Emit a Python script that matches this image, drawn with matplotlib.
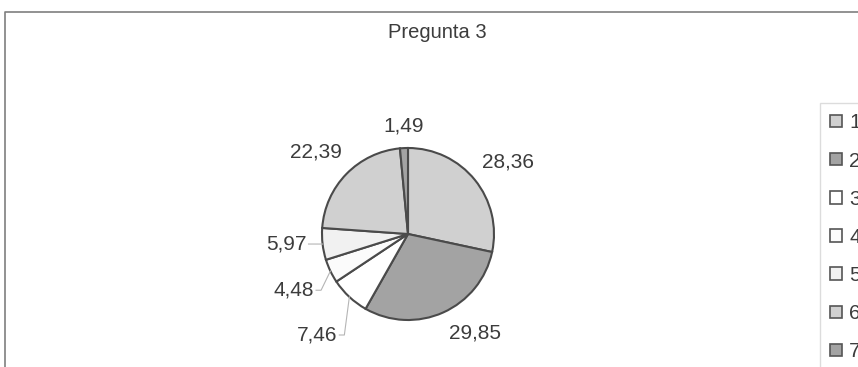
import numpy as np
import matplotlib
matplotlib.use("Agg")
import matplotlib.pyplot as plt
from matplotlib.lines import Line2D

plt.rcParams['font.family'] = ['Liberation Sans', 'DejaVu Sans']

# ---- data ----
title = "Pregunta 3"
categories = ["1", "2", "3", "4", "5", "6", "7"]
values = [28.36, 29.85, 7.46, 4.48, 5.97, 22.39, 1.49]
value_labels = ["28,36", "29,85", "7,46", "4,48", "5,97", "22,39", "1,49"]

# ---- style / layout ----
colors = ["#d0d0d0", "#a3a3a3", "#ffffff", "#fbfbfb", "#f1f1f1", "#d0d0d0", "#a3a3a3"]
label_dist = [1.43, 1.39, 1.58, 1.48, 1.42, 1.43, 1.26]
label_nudge = [-3.2, 9.9, 1.0, 0.7, -2.0, 2.6, -0.6]
leaders = [False, False, True, True, True, False, False]

W, H = 858, 367
fig = plt.figure(figsize=(W / 100, H / 100), dpi=100)
ax = fig.add_axes([0, 0, 1, 1])

cx, cy, R = 408, 133, 86
wedges, _ = ax.pie(values, startangle=90, counterclock=False, colors=colors,
                   center=(cx, cy), radius=R, frame=True,
                   wedgeprops=dict(edgecolor="#4a4a4a", linewidth=1.5))
ax.set_xlim(0, W)
ax.set_ylim(0, H)
ax.set_aspect('auto')
ax.axis('off')

txtcol = "#3c3c3c"
fig.canvas.draw()
for w, lab, d, nud, lead in zip(wedges, value_labels, label_dist, label_nudge, leaders):
    mid = np.deg2rad((w.theta1 + w.theta2) / 2)
    ang = mid + np.deg2rad(nud)
    lx = cx + R * d * np.cos(ang)
    ly = cy + R * d * np.sin(ang)
    t = ax.text(lx, ly, lab, ha='center', va='center', fontsize=15, color=txtcol)
    if lead:
        ex = cx + R * np.cos(mid)
        ey = cy + R * np.sin(mid)
        fig.canvas.draw()
        bb = t.get_window_extent()
        x0 = bb.x1 + 2
        ax.plot([x0, x0 + 5, ex], [ly, ly, ey], color="#b5b5b5", lw=0.8)

# title
ax.text(437, 335, title, ha='center', va='center', fontsize=14.5, color=txtcol)

# chart border
ax.add_line(Line2D([5, 5, W + 10], [-10, 355, 355], color="#7f7f7f", lw=1.2))

# legend (partly outside the picture, as in the reference)
leg = ax.legend(wedges, categories, loc='upper left',
                bbox_to_anchor=(820 / W, 1 - 103 / H), bbox_transform=fig.transFigure,
                fontsize=15, frameon=True, fancybox=False, borderaxespad=0,
                handlelength=0.55, handleheight=0.55, handletextpad=0.35,
                labelspacing=0.92, borderpad=0.5)
leg.get_frame().set_edgecolor("#d4d4d4")
leg.get_frame().set_linewidth(1.0)
for t in leg.get_texts():
    t.set_color(txtcol)
for h in leg.legend_handles:
    h.set_edgecolor("#555555")
    h.set_linewidth(1.2)

fig.savefig("out.png", dpi=100)
